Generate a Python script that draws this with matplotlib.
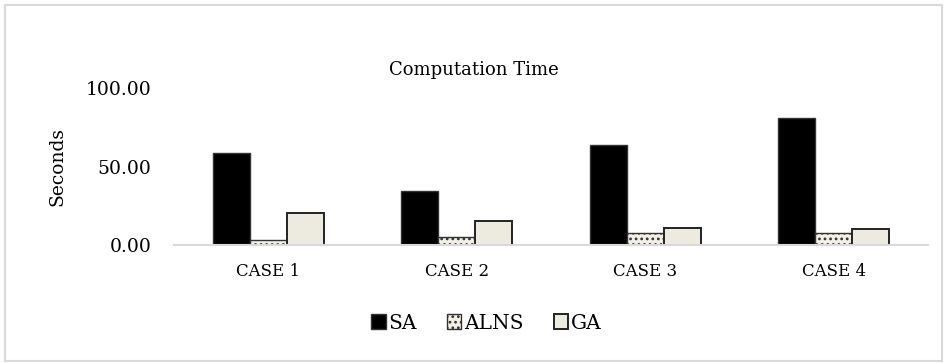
import numpy as np
import matplotlib.pyplot as plt
from matplotlib.patches import Rectangle

plt.rcParams['font.family'] = ['DejaVu Serif']
plt.rcParams['hatch.linewidth'] = 1.2

cases = ['CASE 1', 'CASE 2', 'CASE 3', 'CASE 4']
sa = [58.6, 34.6, 63.7, 81.2]
alns = [3.2, 4.9, 7.4, 7.8]
ga = [20.6, 15.5, 11.0, 10.0]

fig = plt.figure(figsize=(9.47, 3.63), dpi=100)
ax = fig.add_axes([0.1837, 0.325, 0.7963, 0.4325])

x = np.arange(len(cases))
w = 0.196
ax.bar(x - w, sa, w, color='black', edgecolor='#333333', linewidth=1.0, label='SA')
ax.bar(x, alns, w, color='#F2F0E6', edgecolor='#333333', linewidth=1.0,
       hatch='...', label='ALNS')
ax.bar(x + w, ga, w, color='#EDEBE0', edgecolor='#222222', linewidth=1.4, label='GA')

ax.set_xlim(-0.5, 3.5)
ax.set_ylim(0, 100)
ax.set_yticks([0, 50, 100])
ax.set_yticklabels(['0.00', '50.00', '100.00'], fontsize=13.5)
ax.set_xticks(x)
ax.set_xticklabels(cases, fontsize=12)
ax.tick_params(axis='both', length=0)
ax.tick_params(axis='y', pad=16)
ax.tick_params(axis='x', pad=13)
for s in ['top', 'right', 'left']:
    ax.spines[s].set_visible(False)
ax.spines['bottom'].set_color('#D9D9D9')
ax.spines['bottom'].set_linewidth(1.5)
ax.set_ylabel('Seconds', fontsize=13.5, labelpad=14)

fig.text(0.5, 0.807, 'Computation Time', ha='center', va='center', fontsize=13)

leg = fig.legend(loc='center', bbox_to_anchor=(0.514, 0.11), ncol=3, frameon=False,
                 fontsize=14.5, handlelength=0.7, handleheight=0.7, handletextpad=0.15,
                 columnspacing=1.5)

fig.patches.append(Rectangle((0.005, 0.006), 0.99, 0.98, transform=fig.transFigure,
                             fill=False, edgecolor='#D9D9D9', linewidth=1.5))

fig.savefig('out.png', dpi=100)
